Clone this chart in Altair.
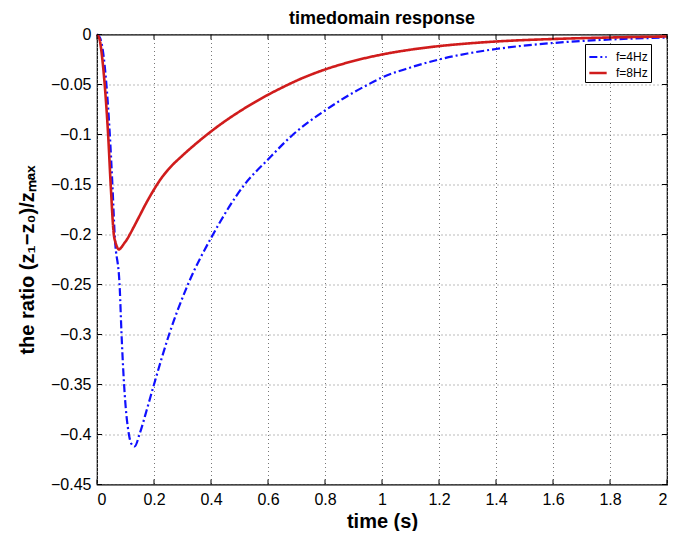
import altair as alt
import pandas as pd

# ---- data ----
t_8hz = [0, 0.005, 0.01, 0.015, 0.02, 0.027, 0.039, 0.048, 0.059, 0.065, 0.071, 0.077,
         0.085, 0.095, 0.105, 0.115, 0.13, 0.15, 0.17, 0.2, 0.225, 0.25, 0.3, 0.35, 0.4,
         0.45, 0.5, 0.55, 0.6, 0.65, 0.711, 0.8, 0.9, 1.0, 1.1, 1.2, 1.3, 1.4, 1.6, 1.8, 2.0]
y_8hz = [0, -0.002, -0.006, -0.0155, -0.028, -0.05, -0.1, -0.15, -0.2, -0.208, -0.213, -0.215,
         -0.213, -0.209, -0.205, -0.2, -0.192, -0.181, -0.17, -0.155, -0.144, -0.135, -0.121,
         -0.1085, -0.097, -0.0865, -0.077, -0.0683, -0.0603, -0.053, -0.0448, -0.035, -0.0265,
         -0.02, -0.0152, -0.0116, -0.009, -0.007, -0.0045, -0.003, -0.002]

t_4hz = [0, 0.01, 0.02, 0.033, 0.045, 0.054, 0.062, 0.08, 0.086, 0.095, 0.112, 0.12,
         0.132, 0.15, 0.175, 0.2, 0.253, 0.319, 0.407, 0.518, 0.6, 0.688, 0.8, 0.9, 0.945,
         1.0, 1.1, 1.2, 1.3, 1.4, 1.6, 1.8, 2.0]
y_4hz = [0, -0.003, -0.015, -0.05, -0.1, -0.15, -0.2, -0.255, -0.299, -0.35, -0.4, -0.409,
         -0.412, -0.399, -0.375, -0.35, -0.3, -0.25, -0.2, -0.15, -0.125, -0.1, -0.076, -0.058,
         -0.051, -0.043, -0.033, -0.025, -0.019, -0.0145, -0.0085, -0.005, -0.003]

series_names = ["f=4Hz", "f=8Hz"]
series_colors = ["#1010ff", "#d01c1c"]
x_ticks = [0, 0.2, 0.4, 0.6, 0.8, 1.0, 1.2, 1.4, 1.6, 1.8, 2.0]
y_ticks = [0, -0.05, -0.1, -0.15, -0.2, -0.25, -0.3, -0.35, -0.4, -0.45]

rows = []
for i, (t, y) in enumerate(zip(t_4hz, y_4hz)):
    rows.append({"t": t, "y": y, "series": "f=4Hz", "o": i})
for i, (t, y) in enumerate(zip(t_8hz, y_8hz)):
    rows.append({"t": t, "y": y, "series": "f=8Hz", "o": i})
df = pd.DataFrame(rows)
dfx = pd.DataFrame({"t": x_ticks})
dfy = pd.DataFrame({"y": y_ticks})

W, H = 570, 450
FONT = "Liberation Sans, Arial, Helvetica, sans-serif"

xs = alt.Scale(domain=[0, 2], nice=False, zero=False)
ys = alt.Scale(domain=[-0.45, 0], nice=False, zero=False)

lines = alt.Chart(df).mark_line(interpolate="monotone").encode(
    x=alt.X("t:Q", scale=xs,
            axis=alt.Axis(values=x_ticks, format="~g", title="time (s)",
                          grid=True, ticks=False, domain=False,
                          labelPadding=7, titleX=W / 2, titleY=37,
                          titleBaseline="middle")),
    y=alt.Y("y:Q", scale=ys,
            axis=alt.Axis(values=y_ticks, format="~g",
                          title="the ratio (z₁−z₀)/zₘₐₓ",
                          grid=True, ticks=False, domain=False,
                          labelPadding=6, titleX=-70, titleY=H / 2,
                          titleAngle=270, titleAlign="center",
                          titleBaseline="middle")),
    color=alt.Color("series:N",
                    scale=alt.Scale(domain=series_names, range=series_colors),
                    legend=alt.Legend(title=None, orient="none", legendX=488, legendY=9.5,
                                      fillColor="white", strokeColor="black",
                                      padding=3, symbolType="stroke", symbolSize=300,
                                      symbolStrokeWidth=2.2, labelFontSize=12,
                                      labelFont=FONT, rowPadding=0, labelOffset=8,
                                      labelColor="black")),
    strokeDash=alt.StrokeDash("series:N",
                              scale=alt.Scale(domain=series_names,
                                              range=[[8, 3, 2, 3], [1, 0]]),
                              legend=alt.Legend(title=None, orient="none", legendX=488,
                                                legendY=9.5)),
    strokeWidth=alt.StrokeWidth("series:N",
                                scale=alt.Scale(domain=series_names, range=[2.2, 2.6]),
                                legend=None),
    order="o:Q",
)

tick_len = 5
bottom_ticks = alt.Chart(dfx).mark_rule(color="black", strokeWidth=1).encode(
    x=alt.X("t:Q", scale=xs), y=alt.value(H), y2=alt.value(H - tick_len))
top_ticks = alt.Chart(dfx).mark_rule(color="black", strokeWidth=1).encode(
    x=alt.X("t:Q", scale=xs), y=alt.value(0), y2=alt.value(tick_len))
left_ticks = alt.Chart(dfy).mark_rule(color="black", strokeWidth=1).encode(
    y=alt.Y("y:Q", scale=ys), x=alt.value(0), x2=alt.value(tick_len))
right_ticks = alt.Chart(dfy).mark_rule(color="black", strokeWidth=1).encode(
    y=alt.Y("y:Q", scale=ys), x=alt.value(W), x2=alt.value(W - tick_len))

chart = alt.layer(lines, bottom_ticks, top_ticks, left_ticks, right_ticks).properties(
    width=W, height=H,
    title=alt.TitleParams("timedomain response", fontSize=18, font=FONT,
                          fontWeight="bold", anchor="middle", offset=3, dy=4,
                          color="black"),
    autosize="none",
    padding={"left": 89, "top": 26.5, "right": 14, "bottom": 46.5},
    background="white",
).configure_view(
    stroke="black", strokeWidth=1.2
).configure_axis(
    labelFont=FONT, labelFontSize=16, labelColor="black",
    titleFont=FONT, titleFontSize=20, titleFontWeight="bold", titleColor="black",
    gridColor="#777777", gridDash=[1, 3], gridOpacity=1, gridWidth=1,
)

chart.save("out.html", embed_options={"renderer": "svg", "actions": False})
